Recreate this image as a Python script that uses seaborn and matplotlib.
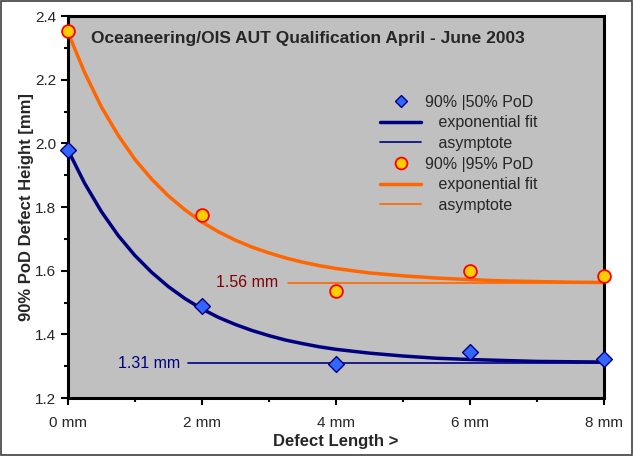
import numpy as np
import pandas as pd
import matplotlib
matplotlib.use("Agg")
import matplotlib.pyplot as plt
import seaborn as sns
from matplotlib.lines import Line2D
from matplotlib.patches import Rectangle
from matplotlib.ticker import MultipleLocator, FuncFormatter

# measured points
defect_length = [0, 2, 4, 6, 8]
pod50 = [1.98, 1.49, 1.307, 1.344, 1.322]
pod95 = [2.353, 1.775, 1.536, 1.599, 1.583]

# fitted curves
fit_x = [0, 0.25, 0.5, 0.75, 1, 1.25, 1.5, 1.75, 2, 2.25, 2.5, 2.75, 3, 3.25,
         3.5, 3.75, 4, 4.5, 5, 5.5, 6, 6.5, 7, 7.5, 8]
fit50 = [1.98, 1.875, 1.786, 1.711, 1.648, 1.595, 1.550, 1.512, 1.480, 1.453,
         1.431, 1.412, 1.396, 1.382, 1.371, 1.361, 1.353, 1.341, 1.332, 1.325,
         1.321, 1.318, 1.315, 1.314, 1.313]
fit95 = [2.35, 2.223, 2.115, 2.026, 1.950, 1.888, 1.835, 1.791, 1.753, 1.722,
         1.696, 1.674, 1.656, 1.640, 1.627, 1.616, 1.607, 1.593, 1.584, 1.577,
         1.572, 1.568, 1.566, 1.564, 1.563]

# asymptotes
asym50 = 1.31
asym95 = 1.56
asym50_x = [1.79, 8]
asym95_x = [3.28, 8]

title = "Oceaneering/OIS AUT Qualification April - June 2003"

sns.set_style("ticks")
plt.rcParams['font.family'] = ['Liberation Sans', 'DejaVu Sans']

navy = "#000080"
orange = "#FF6600"

fig = plt.figure(figsize=(6.4, 4.62), dpi=100)
ax = fig.add_axes([0.106, 0.1385, 0.838, 0.8265])
ax.set_facecolor("#C0C0C0")

pts = pd.DataFrame({"x": defect_length, "p50": pod50, "p95": pod95})
fits = pd.DataFrame({"x": fit_x, "f50": fit50, "f95": fit95})

# asymptotes
sns.lineplot(x=asym50_x, y=[asym50, asym50], color=navy, lw=1.2, ax=ax)
sns.lineplot(x=asym95_x, y=[asym95, asym95], color=orange, lw=1.2, ax=ax)

# fits
sns.lineplot(data=fits, x="x", y="f50", color=navy, lw=2.5, ax=ax)
sns.lineplot(data=fits, x="x", y="f95", color=orange, lw=2.5, ax=ax)

# points
sns.scatterplot(data=pts, x="x", y="p50", marker="D", s=65, color="#3366FF",
                edgecolor=navy, linewidth=1, ax=ax, zorder=5, clip_on=False)
sns.scatterplot(data=pts, x="x", y="p95", marker="o", s=85, color="#FFCC00",
                edgecolor="#FF0000", linewidth=1.3, ax=ax, zorder=5, clip_on=False)

ax.set_xlim(0, 8)
ax.set_ylim(1.2, 2.4)
ax.xaxis.set_major_locator(MultipleLocator(2))
ax.xaxis.set_minor_locator(MultipleLocator(1))
ax.yaxis.set_major_locator(MultipleLocator(0.2))
ax.yaxis.set_minor_locator(MultipleLocator(0.1))
ax.xaxis.set_major_formatter(FuncFormatter(lambda v, p: f"{v:.0f} mm"))
ax.yaxis.set_major_formatter(FuncFormatter(lambda v, p: f"{v:.1f}"))
ax.tick_params(which="major", length=5, width=1.5, labelsize=11, color="black")
ax.tick_params(which="minor", length=3, width=1.5, color="black")
ax.tick_params(axis="x", pad=8)
for s in ax.spines.values():
    s.set_linewidth(2.2)
    s.set_color("black")

ax.set_xlabel("Defect Length >", fontsize=12, fontweight="bold", labelpad=3)
ax.set_ylabel("90% PoD Defect Height [mm]", fontsize=12, fontweight="bold", labelpad=1)

ax.text(0.34, 2.33, title, fontsize=12.5, fontweight="bold", va="center", ha="left")
ax.text(1.68, asym50, "1.31 mm", color=navy, fontsize=11.5, va="center", ha="right")
ax.text(3.13, asym95 + 0.003, "1.56 mm", color="#800000", fontsize=11.5, va="center", ha="right")

handles = [
    Line2D([], [], ls="none", marker="D", markersize=6.5, markerfacecolor="#3366FF",
           markeredgecolor=navy),
    Line2D([], [], color=navy, lw=2.5),
    Line2D([], [], color=navy, lw=1.2),
    Line2D([], [], ls="none", marker="o", markersize=8.5, markerfacecolor="#FFCC00",
           markeredgecolor="#FF0000", markeredgewidth=1.3),
    Line2D([], [], color=orange, lw=2.5),
    Line2D([], [], color=orange, lw=1.2),
]
labels = ["90% |50% PoD", "   exponential fit", "   asymptote",
          "90% |95% PoD", "   exponential fit", "   asymptote"]
ax.legend(handles, labels, loc="upper left", bbox_to_anchor=(0.567, 0.815),
          frameon=False, fontsize=11.5, handlelength=2.6, handletextpad=0.25,
          labelspacing=0.35, borderpad=0)

fig.patches.append(Rectangle((0.002, 0.016), 0.986, 0.981, transform=fig.transFigure,
                             fill=False, edgecolor="#404040", lw=1.2))

fig.savefig("out.png", dpi=100)
